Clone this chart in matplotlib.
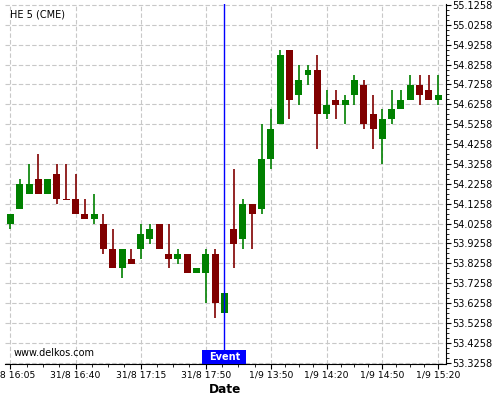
import numpy as np
from matplotlib import pyplot as plt
from matplotlib.patches import Rectangle
from matplotlib.ticker import FixedLocator, AutoMinorLocator

# 5 minute candles, HE 5 (CME)
opens = [54.025, 54.100, 54.175, 54.250, 54.175, 54.275, 54.150, 54.150, 54.075, 54.050,
         54.025, 53.900, 53.800, 53.850, 53.900, 53.950, 54.025, 53.875, 53.850, 53.875,
         53.775, 53.775, 53.875, 53.575, 54.000, 53.950, 54.125, 54.100, 54.350, 54.525,
         54.900, 54.675, 54.775, 54.800, 54.575, 54.650, 54.625, 54.675, 54.725, 54.575,
         54.450, 54.550, 54.600, 54.650, 54.725, 54.700, 54.650]
highs = [54.075, 54.250, 54.325, 54.375, 54.250, 54.325, 54.325, 54.275, 54.150, 54.175,
         54.075, 54.000, 53.900, 53.900, 54.025, 54.025, 54.025, 54.025, 53.900, 53.875,
         53.800, 53.900, 53.900, 53.675, 54.300, 54.150, 54.125, 54.525, 54.600, 54.900,
         54.900, 54.825, 54.825, 54.875, 54.700, 54.700, 54.675, 54.775, 54.750, 54.675,
         54.600, 54.700, 54.700, 54.775, 54.775, 54.775, 54.775]
lows = [54.000, 54.100, 54.175, 54.175, 54.175, 54.125, 54.145, 54.075, 54.050, 54.025,
        53.875, 53.800, 53.750, 53.825, 53.850, 53.925, 53.900, 53.800, 53.825, 53.775,
        53.775, 53.625, 53.550, 53.575, 53.800, 53.900, 53.900, 54.075, 54.300, 54.525,
        54.550, 54.625, 54.725, 54.400, 54.550, 54.550, 54.525, 54.625, 54.500, 54.400,
        54.325, 54.525, 54.600, 54.650, 54.625, 54.650, 54.625]
closes = [54.075, 54.225, 54.225, 54.175, 54.250, 54.150, 54.145, 54.075, 54.050, 54.075,
          53.900, 53.800, 53.900, 53.825, 53.975, 54.000, 53.900, 53.850, 53.875, 53.775,
          53.800, 53.875, 53.625, 53.675, 53.925, 54.125, 54.075, 54.350, 54.500, 54.875,
          54.650, 54.750, 54.800, 54.575, 54.625, 54.625, 54.650, 54.750, 54.525, 54.500,
          54.550, 54.600, 54.650, 54.725, 54.675, 54.650, 54.675]

tick_pos = [0, 7, 14, 21, 28, 34, 40, 46]
tick_labels = ['31/8 16:05', '31/8 16:40', '31/8 17:15', '31/8 17:50',
               '1/9 13:50', '1/9 14:20', '1/9 14:50', '1/9 15:20']
event_idx = 23

green = '#008000'
red = '#800000'

o = np.array(opens)
h = np.array(highs)
l = np.array(lows)
c = np.array(closes)
x = np.arange(len(o))
up = c >= o
cols = np.where(up, green, red)

fig = plt.figure(figsize=(5, 4), dpi=100)
ax = fig.add_axes([0.01, 0.09, 0.881, 0.9])

ax.grid(True, color='#c8c8c8', linestyle=(0, (4, 2)), linewidth=0.8)
ax.set_axisbelow(True)

ax.vlines(x, l, h, colors=cols, linewidth=1.2, zorder=2)
bottoms = np.minimum(o, c)
heights = np.maximum(np.abs(c - o), 0.004)
ax.bar(x, heights, bottom=bottoms, width=0.75, color=cols, linewidth=0, zorder=3)

ax.axvline(event_idx, color='blue', linewidth=1, zorder=4)
trans = ax.get_xaxis_transform()
ax.add_patch(Rectangle((event_idx - 2.35, 0), 4.7, 0.039, transform=trans,
                       facecolor='blue', edgecolor='none', zorder=5, clip_on=False))
ax.text(event_idx, 0.019, 'Event', transform=trans, ha='center', va='center',
        color='white', fontsize=7, fontweight='bold', zorder=6)

ax.text(0.0, 55.08, 'HE 5 (CME)', fontsize=7, ha='left', va='center')
ax.text(0.02, 0.031, 'www.delkos.com', transform=ax.transAxes, fontsize=7,
        ha='left', va='center')

ax.set_xlim(-0.59, 46.79)
ax.set_ylim(53.3193, 55.1308)

ax.xaxis.set_major_locator(FixedLocator(tick_pos))
ax.set_xticklabels(tick_labels, fontsize=6.7)
minors = []
for a, b in zip(tick_pos[:-1], tick_pos[1:]):
    minors += list(np.linspace(a, b, 5)[1:-1])
ax.xaxis.set_minor_locator(FixedLocator(minors))

yt = 53.3258 + 0.1 * np.arange(19)
ax.yaxis.tick_right()
ax.yaxis.set_major_locator(FixedLocator(yt))
ax.set_yticklabels(['%.4f' % v for v in yt], fontsize=7)
ax.yaxis.set_minor_locator(AutoMinorLocator(4))

ax.tick_params(which='major', length=3.5, width=0.8, pad=1.5)
ax.tick_params(which='minor', length=2, width=0.6)
ax.spines['left'].set_visible(False)
ax.spines['top'].set_visible(False)
ax.set_xlabel('Date', fontsize=8.7, fontweight='bold', labelpad=2)

fig.savefig('out.png', dpi=100)
